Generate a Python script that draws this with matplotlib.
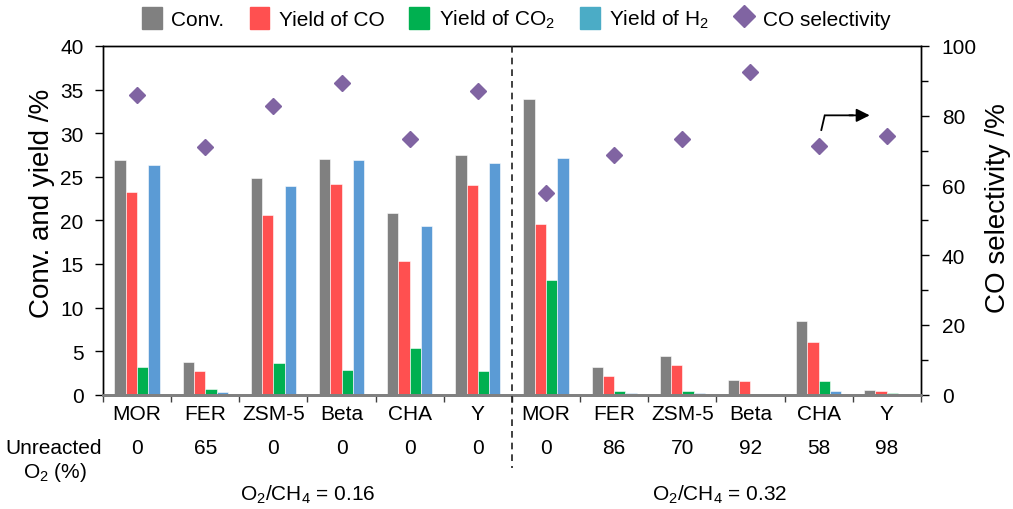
import numpy as np
import matplotlib
matplotlib.use("Agg")
import matplotlib.pyplot as plt
from matplotlib.patches import Patch
from matplotlib.lines import Line2D
from matplotlib import transforms

plt.rcParams['font.family'] = ['Liberation Sans', 'DejaVu Sans']
plt.rcParams['mathtext.default'] = 'regular'

# catalysts, two O2/CH4 feed ratios
zeolites = ['MOR', 'FER', 'ZSM-5', 'Beta', 'CHA', 'Y',
            'MOR', 'FER', 'ZSM-5', 'Beta', 'CHA', 'Y']
unreacted_o2 = ['0', '65', '0', '0', '0', '0',
                '0', '86', '70', '92', '58', '98']

conv = [26.9, 3.8, 24.8, 27.0, 20.8, 27.5,
        33.9, 3.2, 4.5, 1.7, 8.5, 0.6]
yield_co = [23.2, 2.7, 20.6, 24.2, 15.3, 24.0,
            19.6, 2.2, 3.4, 1.6, 6.0, 0.4]
yield_co2 = [3.2, 0.65, 3.6, 2.8, 5.4, 2.7,
             13.2, 0.4, 0.4, 0.1, 1.6, 0.2]
yield_h2 = [26.4, 0.3, 23.9, 26.9, 19.4, 26.6,
            27.1, 0.2, 0.2, 0.05, 0.4, 0.05]
co_sel = [85.9, 70.9, 82.8, 89.3, 73.2, 87.2,
          57.8, 68.8, 73.4, 92.5, 71.2, 74.3]

c_conv = '#808080'
c_co = '#FF5050'
c_co2 = '#00B050'
c_h2 = '#5B9BD5'
c_h2_leg = '#4BACC6'
c_sel = '#8064A2'

fs = 15

fig = plt.figure(figsize=(10.13, 5.10), dpi=100)
ax = fig.add_axes([0.1017, 0.224, 0.8073, 0.684])
ax2 = ax.twinx()

x = np.arange(len(zeolites))
w = 0.166
for k, (vals, col) in enumerate([(conv, c_conv), (yield_co, c_co),
                                  (yield_co2, c_co2), (yield_h2, c_h2)]):
    ax.bar(x + (k - 1.5) * w, vals, width=w, color=col,
           edgecolor='white', linewidth=0.4)

ax2.plot(x, co_sel, 'D', color=c_sel, ms=8.5, ls='none')

ax.set_xlim(-0.5, 11.5)
ax.set_ylim(0, 40)
ax2.set_ylim(0, 100)
ax.set_yticks(np.arange(0, 41, 5))
ax2.set_yticks(np.arange(0, 101, 20))
ax2.set_yticks(np.arange(10, 100, 20), minor=True)

ax.set_xticks(np.arange(-0.5, 12, 1))
ax.set_xticklabels([])
ax.tick_params(axis='x', direction='out', length=5, width=1, color='#404040')
ax.tick_params(axis='y', direction='out', length=6, width=1, labelsize=fs, pad=8)
ax2.tick_params(axis='y', which='major', direction='out', length=6, width=1,
                labelsize=fs, pad=9)
ax2.tick_params(axis='y', which='minor', direction='out', length=5, width=1)

for a in (ax, ax2):
    for s in ('left', 'right', 'top'):
        a.spines[s].set_color('black')
        a.spines[s].set_linewidth(1)
    a.spines['bottom'].set_color('#808080')
    a.spines['bottom'].set_linewidth(2)

fig.text(0.041, 1 - 203 / 510, 'Conv. and yield /%', rotation=90,
         ha='center', va='center', fontsize=20)
fig.text(0.985, 1 - 208 / 510, 'CO selectivity /%', rotation=90,
         ha='center', va='center', fontsize=20)

# labels below the axis
tr = transforms.blended_transform_factory(ax.transData, fig.transFigure)
for xi, name, o2 in zip(x, zeolites, unreacted_o2):
    fig.text(xi, 1 - 415 / 510, name, transform=tr, ha='center', va='center',
             fontsize=fs)
    fig.text(xi, 1 - 449 / 510, o2, transform=tr, ha='center', va='center',
             fontsize=fs)
fig.text(0.053, 1 - 449 / 510, 'Unreacted', ha='center', va='center', fontsize=fs)
fig.text(0.054, 1 - 472 / 510, r'O$_2$ (%)', ha='center', va='center', fontsize=fs)
fig.text(2.5, 1 - 495 / 510, r'O$_2$/CH$_4$ = 0.16', transform=tr,
         ha='center', va='center', fontsize=fs)
fig.text(8.55, 1 - 495 / 510, r'O$_2$/CH$_4$ = 0.32', transform=tr,
         ha='center', va='center', fontsize=fs)

# separator between the two feed ratios
fig.add_artist(Line2D([5.5, 5.5], [0.908, 1 - 469 / 510], transform=tr,
                      color='#202020', lw=1.2, ls=(0, (4, 3))))

# arrow pointing to the right axis
ax2.plot([10.04, 10.09, 10.5], [75.9, 80.1, 80.1], color='black', lw=1.3,
         solid_joinstyle='miter')
ax2.annotate('', xy=(10.75, 80.1), xytext=(10.45, 80.1),
             arrowprops=dict(arrowstyle='-|>', color='black', lw=1.3,
                             mutation_scale=20, shrinkA=0, shrinkB=0))

handles = [Patch(color=c_conv, label='Conv.'),
           Patch(color=c_co, label='Yield of CO'),
           Patch(color=c_co2, label=r'Yield of CO$_2$'),
           Patch(color=c_h2_leg, label=r'Yield of H$_2$'),
           Line2D([], [], marker='D', color=c_sel, ls='none', ms=11,
                  label='CO selectivity')]
fig.legend(handles=handles, loc='center', bbox_to_anchor=(0.51, 0.962),
           ncol=5, frameon=False, fontsize=fs, handlelength=0.95,
           handleheight=1.3, handletextpad=0.45, columnspacing=1.2)

fig.savefig('out.png', dpi=100)
